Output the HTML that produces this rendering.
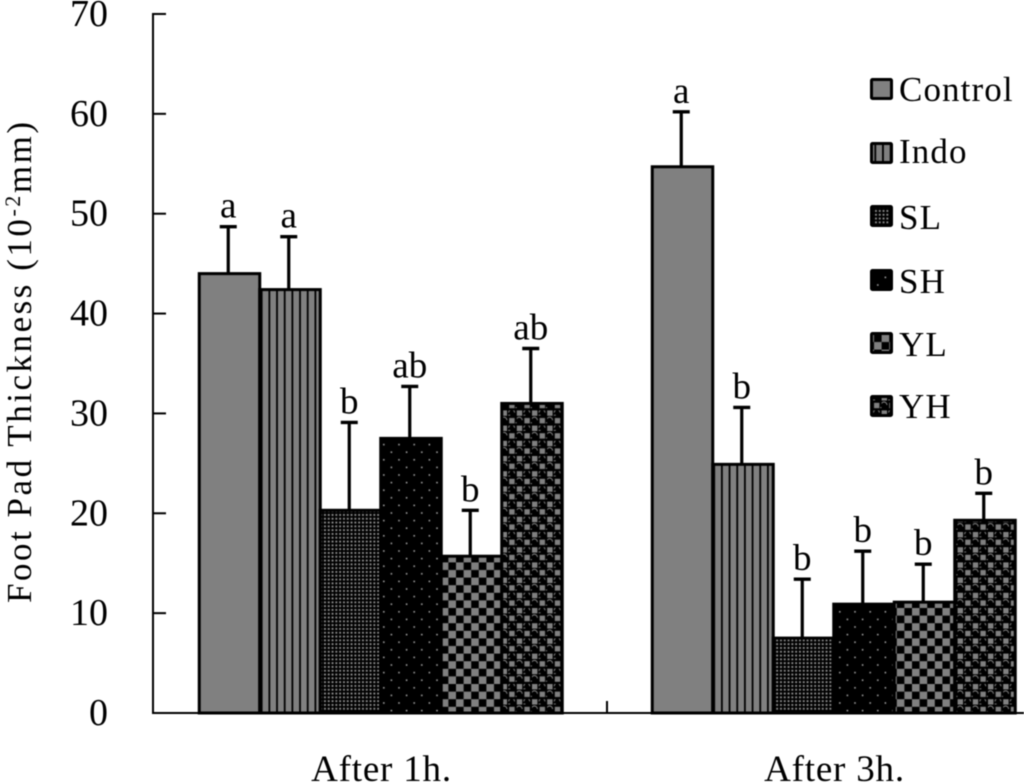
<!DOCTYPE html>
<html lang="en">
<head>
<meta charset="utf-8">
<title>Foot Pad Thickness</title>
<style>
html,body{margin:0;padding:0;background:#fff;width:1024px;height:783px;overflow:hidden}
svg{display:block;filter:blur(0.45px)}
text{font-family:"Liberation Serif",serif;fill:#000}
</style>
</head>
<body>
<svg id="chart" xmlns="http://www.w3.org/2000/svg" width="1024" height="783" viewBox="0 0 1024 783">
<defs>
<pattern id="p-control" width="8" height="8" patternUnits="userSpaceOnUse"><rect width="8" height="8" fill="#808080"/></pattern>
<pattern id="p-indo" width="7.67" height="8" patternUnits="userSpaceOnUse"><rect width="7.67" height="8" fill="#808080"/><rect x="0" width="1.8" height="8" fill="#000"/></pattern>
<pattern id="p-sl" width="3.8" height="3.8" patternUnits="userSpaceOnUse"><rect width="3.8" height="3.8" fill="#000"/><rect x="1" y="1" width="1.9" height="1.9" fill="#8a8a8a"/></pattern>
<pattern id="p-sh" width="15.2" height="15.2" patternUnits="userSpaceOnUse"><rect width="15.2" height="15.2" fill="#000"/><rect x="3" y="3" width="1.6" height="1.6" fill="#999"/><rect x="10.6" y="10.6" width="1.6" height="1.6" fill="#999"/></pattern>
<pattern id="p-yl" width="15.2" height="15.2" patternUnits="userSpaceOnUse"><rect width="15.2" height="15.2" fill="#000"/><rect x="0" y="0" width="7.6" height="7.6" fill="#808080"/><rect x="7.6" y="7.6" width="7.6" height="7.6" fill="#808080"/></pattern>
<pattern id="p-yh" width="15.2" height="15.2" patternUnits="userSpaceOnUse"><rect width="15.2" height="15.2" fill="#000"/><rect x="0" y="0" width="5.4" height="5.4" fill="#808080"/><rect x="7.6" y="7.6" width="5.4" height="5.4" fill="#808080"/><path d="M7 2.2 a3 3 0 0 1 6 0 M-0.6 9.8 a3 3 0 0 1 6 0 M6.6 4.8 h2 M13.8 12.4 h2" stroke="#808080" stroke-width="1" fill="none"/></pattern>
</defs>
</svg>
<script>
const categories = ["After 1h.", "After 3h."];
const seriesNames = ["Control", "Indo", "SL", "SH", "YL", "YH"];
const after1hValues = [44, 42.4, 20.3, 27.5, 15.7, 31];
const after3hValues = [54.7, 24.9, 7.5, 10.9, 11.1, 19.3];
const after1hErrorTops = [48.7, 47.7, 29.1, 32.7, 20.3, 36.5];
const after3hErrorTops = [60.2, 30.6, 13.4, 16.2, 14.9, 22];
const after1hLetters = ["a", "a", "b", "ab", "b", "ab"];
const after3hLetters = ["a", "b", "b", "b", "b", "b"];
const yTicks = [0, 10, 20, 30, 40, 50, 60, 70];

const svg = document.getElementById('chart');
const NS = 'http://www.w3.org/2000/svg';
const X0 = 153, BAND = 453, BARW = 60.5, Y0 = 713, PXPER = 9.986;
const patterns = ['p-control', 'p-indo', 'p-sl', 'p-sh', 'p-yl', 'p-yh'];
const legendY = [78, 142, 205, 269, 332, 395];
const legendBase = [101, 163, 229, 293, 356, 418];

function yScale(v) { return Y0 - v * PXPER; }
function xBand(i) { return X0 + BAND * i + BAND / 2; }
function xBar(g, s) { return xBand(g) + (s - seriesNames.length / 2) * BARW; }
function make(tag, attrs, text) {
  const el = document.createElementNS(NS, tag);
  for (const k in attrs) el.setAttribute(k, attrs[k]);
  if (text !== undefined) el.textContent = text;
  svg.appendChild(el);
  return el;
}

const groupValues = [after1hValues, after3hValues];
const groupTops = [after1hErrorTops, after3hErrorTops];
const groupLetters = [after1hLetters, after3hLetters];

categories.forEach(function (cat, g) {
  seriesNames.forEach(function (name, s) {
    const v = groupValues[g][s], top = groupTops[g][s];
    const cx = xBar(g, s) + BARW / 2;
    const stem = make('line', { x1: cx, x2: cx, y1: yScale(top), y2: yScale(v), stroke: '#000', 'stroke-width': 3.2 });
    
    
    const cap = make('line', { x1: cx - 8.5, x2: cx + 8.5, y1: yScale(top), y2: yScale(top), stroke: '#000', 'stroke-width': 3.4 });
    
    
    const bar = make('rect', { x: xBar(g, s) + 1.25, y: yScale(v), width: BARW, height: Y0 - yScale(v), fill: 'url(#' + patterns[s] + ')', stroke: '#000', 'stroke-width': 3 });
    
    
    const letter = make('text', { x: cx, y: yScale(top) - 9, 'text-anchor': 'middle', 'font-size': 37 }, groupLetters[g][s]);
    
    
  });
  const label = make('text', { x: xBand(g) + 2, y: 781, 'text-anchor': 'middle', 'font-size': 37, 'letter-spacing': 0.8 }, cat);
  
  
});

const yAxis = make('line', { x1: X0, x2: X0, y1: yScale(70) - 1, y2: Y0 + 1, stroke: '#000', 'stroke-width': 2 });


const xAxis = make('line', { x1: X0, x2: 1024, y1: Y0, y2: Y0, stroke: '#000', 'stroke-width': 2 });


const midTick = make('line', { x1: X0 + BAND + 1, x2: X0 + BAND + 1, y1: Y0 - 12, y2: Y0, stroke: '#000', 'stroke-width': 2 });



yTicks.forEach(function (t) {
  const tick = make('line', { x1: X0, x2: X0 + 13, y1: yScale(t), y2: yScale(t), stroke: '#000', 'stroke-width': 2 });
  
  
  const lab = make('text', { x: 108, y: yScale(t) + 12, 'text-anchor': 'end', 'font-size': 38 }, String(t));
  
  
});

seriesNames.forEach(function (name, s) {
  const sw = make('rect', { x: 871.5, y: legendY[s] + 1.5, width: 20, height: 19, rx: 1, fill: 'url(#' + patterns[s] + ')', stroke: '#000', 'stroke-width': 3 });
  
  
  const tx = make('text', { x: 899, y: legendBase[s], 'font-size': 35, 'letter-spacing': 1.1 }, name);
  
  
});

const title = make('text', { transform: 'translate(31,603) rotate(-90)', 'font-size': 35, textLength: 481, lengthAdjust: 'spacing' });


title.appendChild(document.createTextNode('Foot Pad Thickness (10'));
const sup = document.createElementNS(NS, 'tspan');
sup.setAttribute('dy', '-11');
sup.setAttribute('font-size', '22');
sup.textContent = '-2';
title.appendChild(sup);
const unit = document.createElementNS(NS, 'tspan');
unit.setAttribute('dy', '11');
unit.textContent = 'mm)';
title.appendChild(unit);
</script>
</body>
</html>
